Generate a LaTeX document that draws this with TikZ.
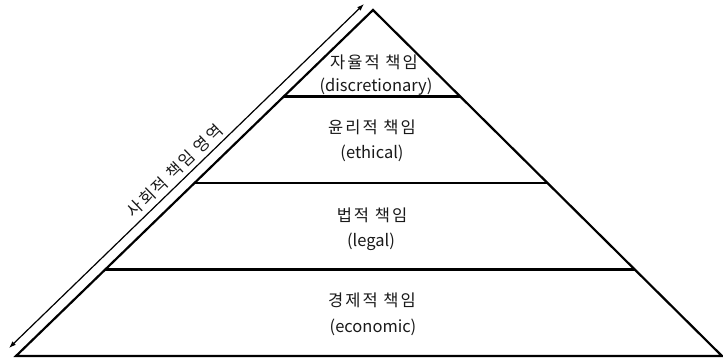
\documentclass[tikz,border=0pt]{standalone}
\usepackage{fontspec}
\setmainfont{Noto Sans CJK KR}
\newfontfamily\kor[LetterSpace=12]{Noto Sans CJK KR}
\usetikzlibrary{calc,arrows.meta}
\begin{document}
\begin{tikzpicture}[x=1pt,y=-1pt,
  side/.style={line width=2.2pt,line join=miter},
  tier/.style={line width=2.2pt},
  lbl/.style={font=\fontsize{16.5}{19}\selectfont,inner sep=0pt,text=black!90},
  klbl/.style={font=\kor\fontsize{16.5}{19}\selectfont,inner sep=0pt,text=black!90},
  axis/.style={line width=1.2pt,{Latex[length=7pt,width=5pt]}-{Latex[length=7pt,width=5pt]}}]
\useasboundingbox (0,0) rectangle (723,360);
\coordinate (bl) at (16,356);
\coordinate (apex) at (373,10);
\coordinate (br) at (722,356);
\draw[side] (bl) -- (apex) -- (br) -- cycle;
\coordinate (l1) at ($(bl)!0.25!(apex)$);
\coordinate (r1) at ($(br)!0.25!(apex)$);
\coordinate (l2) at ($(bl)!0.5!(apex)$);
\coordinate (r2) at ($(br)!0.5!(apex)$);
\coordinate (l3) at ($(bl)!0.75!(apex)$);
\coordinate (r3) at ($(br)!0.75!(apex)$);
\draw[tier] (l1) -- (r1);
\draw[tier] (l2) -- (r2);
\draw[tier] (l3) -- (r3);
\coordinate (a0) at (9,348);
\coordinate (a1) at (364,4);
\draw[axis] (a0) -- node[klbl,pos=0.49,sloped,above=4pt] (ax) {사회적 책임 영역} (a1);
\node[klbl] (t1a) at (374,62) {자율적 책임};
\node[lbl] (t1b) at (376,87) {(discretionary)};
\node[klbl] (t2a) at (372,127) {윤리적 책임};
\node[lbl] (t2b) at (372,153) {(ethical)};
\node[klbl] (t3a) at (372,215) {법적 책임};
\node[lbl] (t3b) at (371,242) {(legal)};
\node[klbl] (t4a) at (372,300) {경제적 책임};
\node[lbl] (t4b) at (373,327) {(economic)};
\end{tikzpicture}
\end{document}
